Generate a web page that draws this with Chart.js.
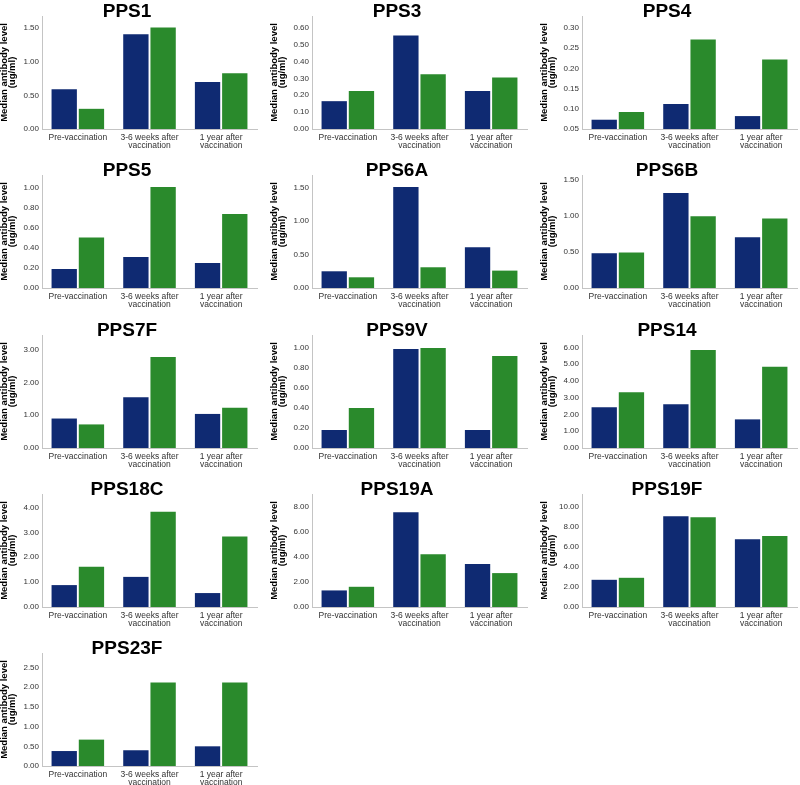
<!DOCTYPE html>
<html>
<head>
<meta charset="utf-8">
<script src="https://cdn.jsdelivr.net/npm/chart.js@4.4.1/dist/chart.umd.min.js"></script>
<style>
  body { margin: 0; background: #fff; }
  #grid { position: relative; width: 800px; height: 785px; }
  #grid canvas { position: absolute; }
</style>
</head>
<body>
<div id="grid"></div>
<script>
var categories = [['Pre-vaccination'], ['3-6 weeks after', 'vaccination'], ['1 year after', 'vaccination']];
var panelNames = ['PPS1', 'PPS3', 'PPS4', 'PPS5', 'PPS6A', 'PPS6B', 'PPS7F', 'PPS9V', 'PPS14', 'PPS18C', 'PPS19A', 'PPS19F', 'PPS23F'];

// blue bars, then green bars, one row per panel
var blueValues = [
    [0.59, 1.41, 0.70],
    [0.165, 0.555, 0.225],
    [0.073, 0.112, 0.082],
    [0.19, 0.31, 0.25],
    [0.25, 1.51, 0.61],
    [0.48, 1.31, 0.70],
    [0.90, 1.55, 1.04],
    [0.18, 0.99, 0.18],
    [2.43, 2.62, 1.71],
    [0.88, 1.21, 0.56],
    [1.32, 7.55, 3.42],
    [2.72, 9.08, 6.78],
    [0.38, 0.40, 0.50]
];
var greenValues = [
    [0.30, 1.51, 0.83],
    [0.225, 0.325, 0.305],
    [0.092, 0.272, 0.222],
    [0.505, 1.01, 0.74],
    [0.16, 0.31, 0.26],
    [0.49, 0.99, 0.96],
    [0.72, 2.78, 1.23],
    [0.40, 1.00, 0.92],
    [3.33, 5.86, 4.85],
    [1.62, 3.83, 2.83],
    [1.61, 4.20, 2.70],
    [2.92, 8.98, 7.10],
    [0.67, 2.12, 2.12]
];

// y axis ranges and tick steps
var yMin = [0, 0, 0.05, 0, 0, 0, 0, 0, 0, 0, 0, 0, 0];
var yMax = [1.68, 0.67, 0.33, 1.13, 1.69, 1.56, 3.45, 1.13, 6.75, 4.54, 9.0, 11.3, 2.87];
var yStep = [0.5, 0.1, 0.05, 0.2, 0.5, 0.5, 1, 0.2, 1, 1, 2, 2, 0.5];

var FONT = '"Liberation Sans", Arial, sans-serif';
var BLUE = '#0f2a72';
var GREEN = '#2a8a2c';
var rowTops = [0, 159, 319, 478, 637];

// draws the big bold panel title
var panelTitle = {
    id: 'panelTitle',
    afterDraw: function (chart, args, opts) {
        var ctx = chart.ctx;
        ctx.save();
        ctx.font = 'bold 19px ' + FONT;
        ctx.fillStyle = '#000';
        ctx.textAlign = 'center';
        ctx.textBaseline = 'alphabetic';
        ctx.fillText(opts.text, 127, 17);
        ctx.restore();
    }
};

var grid = document.getElementById('grid');

panelNames.forEach(function (name, i) {
    var canvas = document.createElement('canvas');
    canvas.width = 260;
    canvas.height = 159;
    canvas.style.left = (i % 3) * 270 + 'px';
    canvas.style.top = rowTops[Math.floor(i / 3)] + 'px';
    grid.appendChild(canvas);

    var lo = yMin[i], hi = yMax[i], step = yStep[i];

    new Chart(canvas.getContext('2d'), {
        type: 'bar',
        data: {
            labels: categories,
            datasets: [{
                label: 'Group 1',
                data: blueValues[i],
                backgroundColor: BLUE,
                barPercentage: 0.93,
                categoryPercentage: 0.76
            }, {
                label: 'Group 2',
                data: greenValues[i],
                backgroundColor: GREEN,
                barPercentage: 0.93,
                categoryPercentage: 0.76
            }]
        },
        options: {
            responsive: false,
            animation: false,
            devicePixelRatio: 1,
            layout: { padding: { top: 16, right: 3, left: 0, bottom: 0 } },
            plugins: {
                legend: { display: false },
                tooltip: { enabled: false },
                panelTitle: { text: name }
            },
            scales: {
                x: {
                    grid: { display: false, drawTicks: false },
                    border: { display: true, color: '#c4c4c4' },
                    ticks: {
                        color: '#333',
                        font: { family: FONT, size: 8.5, lineHeight: 1 },
                        padding: 4,
                        maxRotation: 0,
                        autoSkip: false
                    },
                    afterFit: function (s) { s.height = 30; }
                },
                y: {
                    min: lo,
                    max: hi,
                    grid: { display: false, drawTicks: false },
                    border: { display: true, color: '#c4c4c4' },
                    ticks: {
                        color: '#333',
                        font: { family: FONT, size: 8 },
                        padding: 3,
                        callback: function (v) { return Number(v).toFixed(2); }
                    },
                    afterBuildTicks: function (s) {
                        var t = [];
                        for (var k = 0; lo + k * step <= hi + 1e-9; k++) {
                            t.push({ value: +(lo + k * step).toFixed(4) });
                        }
                        s.ticks = t;
                    },
                    title: {
                        display: true,
                        text: ['Median antibody level', '(ug/ml)'],
                        color: '#000',
                        font: { family: FONT, size: 9.5, weight: 'bold', lineHeight: 0.9 },
                        padding: { top: 0, bottom: 0 }
                    },
                    afterFit: function (s) { s.width = 42; }
                }
            }
        },
        plugins: [panelTitle]
    });
});
</script>
</body>
</html>
